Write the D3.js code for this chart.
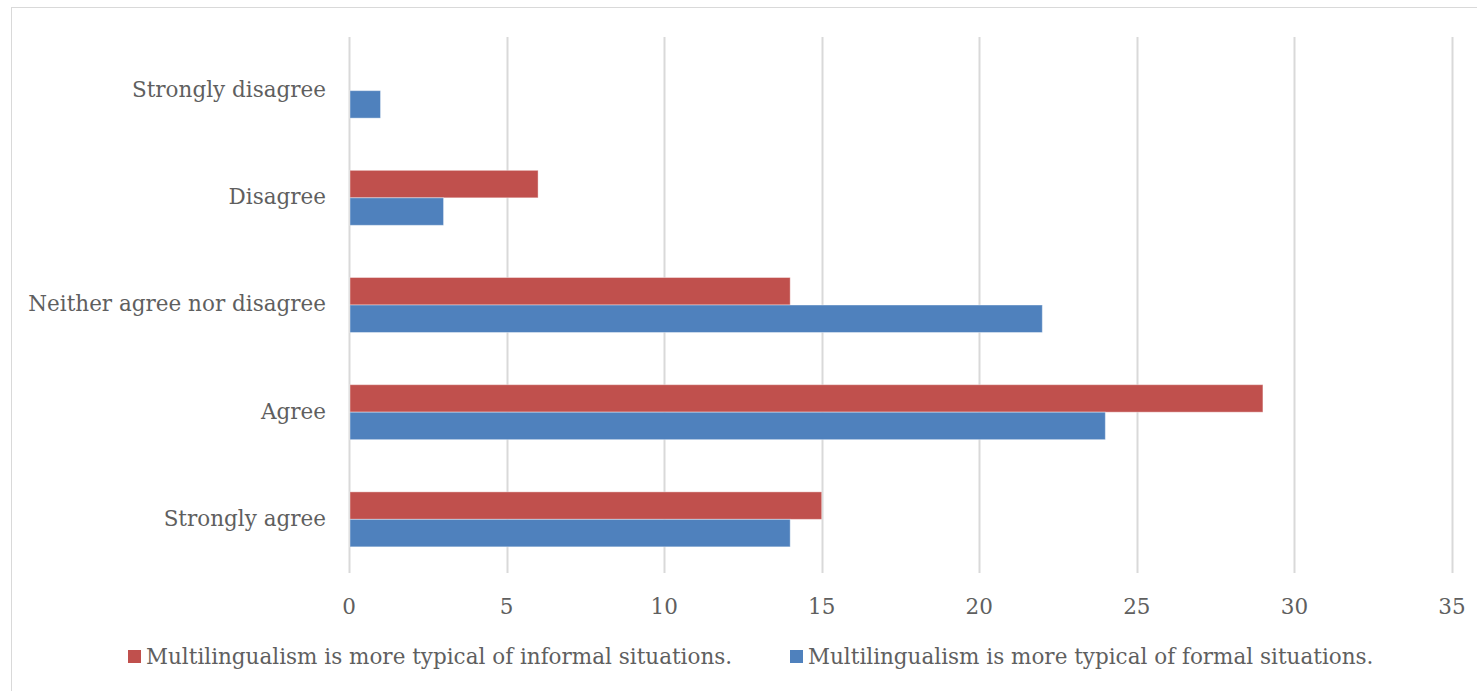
<!DOCTYPE html>
<html>
<head>
<meta charset="utf-8">
<script src="https://cdn.jsdelivr.net/npm/d3@7"></script>
<style>
  body { margin: 0; background: #fff; }
  svg text { font-family: "DejaVu Serif", serif; fill: #5f5f5f; }
</style>
</head>
<body>
<svg class="chart"></svg>
<script>
const categories = ["Strongly disagree", "Disagree", "Neither agree nor disagree", "Agree", "Strongly agree"];
const informal = [0, 6, 14, 29, 15];
const formal = [1, 3, 22, 24, 14];
const seriesNames = [
    "Multilingualism is more typical of informal situations.",
    "Multilingualism is more typical of formal situations."
];
const seriesColors = ["#C0504D", "#4F81BD"];
const xTicks = [0, 5, 10, 15, 20, 25, 30, 35];

const width = 1477, height = 691;
const margin = {top: 37, right: 25, bottom: 118, left: 349};

const svg = d3.select(".chart")
    .attr('width', width)
    .attr('height', height);

// chart area frame
svg.append('rect')
    .attr('x', 11.5).attr('y', 7.5)
    .attr('width', width + 20).attr('height', height + 20)
    .style('fill', 'none')
    .style('stroke', '#d9d9d9');

const chart = svg.append('g')
    .attr('transform', `translate(${margin.left}, ${margin.top})`);

const w = 1103;
const h = 536;

const x = d3.scaleLinear().domain([0, 35]).range([0, w]);
const y = d3.scaleBand().domain(categories).range([0, h]).paddingInner(0.487).paddingOuter(0.244);
const sub = d3.scaleBand().domain([0, 1]).range([0, y.bandwidth()]);

// gridlines
chart.selectAll('.grid')
    .data(xTicks)
    .enter().append('line')
    .attr('class', 'grid')
    .attr('x1', (d) => Math.round(x(d)) + 0.5)
    .attr('x2', (d) => Math.round(x(d)) + 0.5)
    .attr('y1', 0)
    .attr('y2', h)
    .style('stroke', '#d9d9d9')
    .style('stroke-width', 2);

// tick labels
chart.selectAll('.xlabel')
    .data(xTicks)
    .enter().append('text')
    .attr('class', 'xlabel')
    .attr('x', (d) => x(d))
    .attr('y', 577)
    .attr('text-anchor', 'middle')
    .style('font-size', '21.5px')
    .text((d) => d);

// category labels
chart.selectAll('.ylabel')
    .data(categories)
    .enter().append('text')
    .attr('class', 'ylabel')
    .attr('x', -23)
    .attr('y', (d) => y(d) + y.bandwidth() / 2)
    .attr('dy', '0.3em')
    .attr('text-anchor', 'end')
    .style('font-size', '21.5px')
    .text((d) => d);

// bars
const series = [informal, formal];
series.forEach((vals, i) => {
    chart.selectAll('.bar' + i)
        .data(categories.map((c, j) => ({c: c, v: vals[j]})).filter((d) => d.v > 0))
        .enter().append('rect')
        .attr('class', 'bar' + i)
        .attr('x', x(0) + 1)
        .attr('y', (d) => y(d.c) + sub(i))
        .attr('width', (d) => x(d.v) - x(0) - 1)
        .attr('height', sub.bandwidth())
        .style('fill', seriesColors[i])
        .style('stroke', '#ffffff')
        .style('stroke-opacity', 0.4)
        .style('stroke-width', 1);
});

// legend
const legendX = [128, 790];
const legend = svg.selectAll('.legend')
    .data(seriesNames)
    .enter().append('g')
    .attr('class', 'legend')
    .attr('transform', (d, i) => `translate(${legendX[i]}, 650)`);

legend.append('rect')
    .attr('width', 13).attr('height', 13)
    .style('fill', (d, i) => seriesColors[i]);

legend.append('text')
    .attr('x', 18)
    .attr('y', 7)
    .attr('dy', '0.32em')
    .style('font-size', '21.5px')
    .text((d) => d);
</script>
</body>
</html>
